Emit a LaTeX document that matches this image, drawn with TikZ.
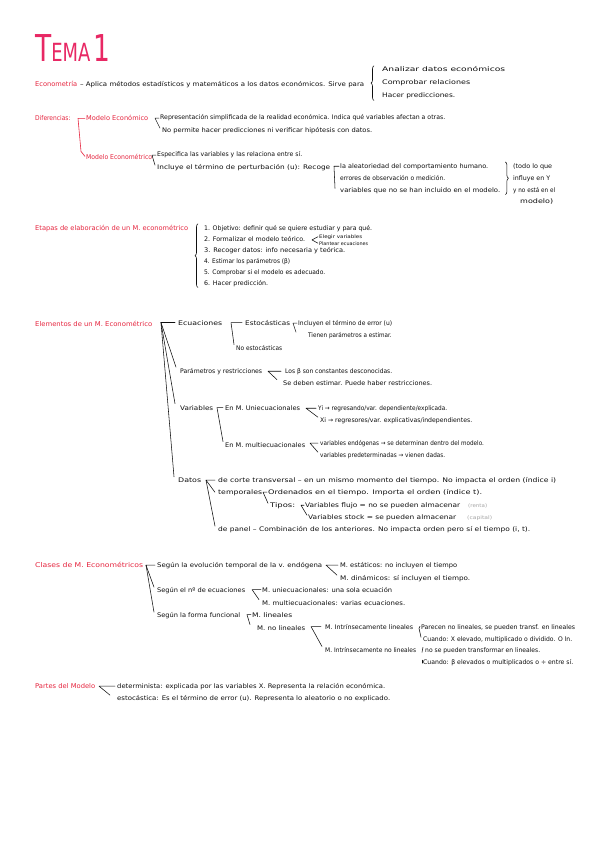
\documentclass[tikz,border=0pt]{standalone}
\usepackage{fontspec}
\usepackage{graphicx}
\setmainfont{DejaVu Sans}
\usetikzlibrary{decorations.pathreplacing,calc}
\definecolor{nred}{RGB}{230,36,62}
\definecolor{npink}{RGB}{232,40,100}
\definecolor{ngray}{RGB}{165,165,165}
\definecolor{nink}{RGB}{15,15,15}
\newsavebox\mybox
% \mytx[style]{name}{x}{baseline y}{end x}{text}: text stretched horizontally towards end x
\newcommand\mytx[6][tx]{\node[#1] (#2) at (#3,#4) {\sbox\mybox{#6}\pgfmathsetmacro\myf{max(0.9,min(1.5,(#5-#3)/\wd\mybox))}\scalebox{\myf}[1]{\usebox\mybox}};}
\begin{document}
\begin{tikzpicture}[x=1pt,y=-1pt,
  tx/.style={font=\fontsize{6.3}{7}\selectfont, text=nink, inner sep=0pt, anchor=base west},
  sx/.style={tx, font=\fontsize{4.8}{5}\selectfont},
  gx/.style={tx, text=ngray, font=\fontsize{5}{6}\selectfont},
  rx/.style={tx, text=nred, font=\fontsize{6.6}{7}\selectfont},
  ln/.style={draw=nink, line width=0.55pt, line cap=round, line join=round},
  rln/.style={draw=nred, line width=0.6pt, line cap=round, line join=round},
  brc/.style={ln, decorate, decoration={brace, amplitude=3pt}}
]
\useasboundingbox[fill=white] (0,0) rectangle (599,848);

% Title
\node[tx, text=npink] (tema) at (35,62) {\resizebox{75pt}{\height}{\fontsize{37}{40}\selectfont T\fontsize{25}{28}\selectfont EMA\,\fontsize{37}{40}\selectfont 1}};

% Econometria
\mytx[rx]{ectr}{35}{87}{77}{Econometría}
\mytx{ecdef}{80}{87}{364}{– Aplica métodos estadísticos y matemáticos a los datos económicos. Sirve para}
\mytx{an}{382}{72}{505}{Analizar datos económicos}
\mytx{co}{382}{85}{470}{Comprobar relaciones}
\mytx{ha}{382}{98}{455}{Hacer predicciones.}
\draw[brc] ([xshift=-8,yshift=-1]ha.south west) -- ([xshift=-8,yshift=1]an.north west);

% Diferencias
\mytx[rx]{dif}{35}{121}{70}{Diferencias:}
\mytx[rx]{meco}{86}{121}{148}{Modelo Económico}
\mytx[rx]{mectr}{86}{159}{152}{Modelo Econométrico}
\draw[rln] ([xshift=-1]meco.west) -- ([xshift=-8]meco.west) coordinate (d0)
  -- ([xshift=-5,yshift=5]mectr.west) -- ([xshift=-1]mectr.west);

\mytx{me1}{160}{120}{445}{Representación simplificada de la realidad económica. Indica qué variables afectan a otras.}
\mytx{me2}{162}{132}{372}{No permite hacer predicciones ni verificar hipótesis con datos.}
\draw[ln] ([xshift=-1]me1.west) -- ([xshift=-5]me1.west) -- ([xshift=-2,yshift=2]me2.west);

\mytx{mc1}{157}{157}{302}{Especifica las variables y las relaciona entre sí.}
\mytx{mc2}{157}{169}{330}{Incluye el término de perturbación (u): Recoge}
\draw[ln] ([xshift=-1]mc1.west) -- ([xshift=-5]mc1.west) -- ([xshift=-2,yshift=2]mc2.west);

\mytx{rc1}{340}{168}{488}{la aleatoriedad del comportamiento humano.}
\mytx{rc2}{340}{180}{445}{errores de observación o medición.}
\mytx{rc3}{340}{192}{500}{variables que no se han incluido en el modelo.}
\draw[ln] ([xshift=-1]rc1.west) -- ([xshift=-6]rc1.west) -- ([xshift=-5,yshift=2]rc3.west);
\draw[brc] ([xshift=5,yshift=1]rc3.east |- rc1.north) -- ([xshift=5,yshift=-1]rc3.south east);
\mytx{td1}{513}{168}{552}{(todo lo que}
\mytx{td2}{513}{180}{550}{influye en Y}
\mytx{td3}{513}{192}{555}{y no está en el}
\mytx{td4}{520}{203}{553}{modelo)}

% Etapas
\mytx[rx]{eta}{35}{230}{188}{Etapas de elaboración de un M. econométrico}
\mytx{e1}{204}{230}{372}{1. Objetivo: definir qué se quiere estudiar y para qué.}
\mytx{e2}{204}{241}{305}{2. Formalizar el modelo teórico.}
\mytx{e3}{204}{252}{345}{3. Recoger datos: info necesaria y teórica.}
\mytx{e4}{204}{263}{290}{4. Estimar los parámetros (β)}
\mytx{e5}{204}{274}{325}{5. Comprobar si el modelo es adecuado.}
\mytx{e6}{204}{285}{268}{6. Hacer predicción.}
\draw[brc] ([xshift=-6,yshift=-1]e6.south west) -- ([xshift=-6,yshift=1]e1.north west);
\mytx[sx]{ev}{319}{238}{362}{Elegir variables}
\mytx[sx]{pe}{319}{245}{368}{Plantear ecuaciones}
\draw[ln] ([xshift=-1]ev.west) -- ($(ev.west)!0.5!(pe.west)+(-7,0)$) -- ([xshift=-1]pe.west);

% Elementos
\mytx[rx]{el}{35}{326}{152}{Elementos de un M. Econométrico}
\mytx{ecu}{178}{325}{222}{Ecuaciones}
\mytx{par}{180}{373}{262}{Parámetros y restricciones}
\mytx{var}{180}{410}{213}{Variables}
\mytx{dat}{178}{482}{201}{Datos}
\draw[ln] ([xshift=-3]ecu.west) -- ([xshift=-17]ecu.west) coordinate (root);
\draw[ln] (root) -- ([xshift=-4,yshift=4]par.west);
\draw[ln] (root) -- ([xshift=-5,yshift=4]var.west);
\draw[ln] (root) -- ([xshift=-4,yshift=3]dat.west);

\mytx{est}{245}{325}{290}{Estocásticas}
\mytx{noest}{236}{350}{282}{No estocásticas}
\draw[ln] ([xshift=-3]est.west) -- ([xshift=-14]est.west) -- ([xshift=-2,yshift=3]noest.west);
\mytx{in1}{298}{325}{392}{Incluyen el término de error (u)}
\mytx{in2}{308}{337}{388}{Tienen parámetros a estimar.}
\draw[ln] ([xshift=-1]in1.west) -- ([xshift=-5]in1.west) -- ([xshift=-2,yshift=3]in1.west |- in2.west);

\mytx{pa1}{285}{373}{392}{Los β son constantes desconocidas.}
\mytx{pa2}{283}{385}{432}{Se deben estimar. Puede haber restricciones.}
\draw[ln] ([xshift=-4]pa1.west) -- ([xshift=-17]pa1.west) -- ([xshift=-6,yshift=3]pa2.west);

\mytx{vu}{225}{410}{300}{En M. Uniecuacionales}
\mytx{vm}{225}{447}{305}{En M. multiecuacionales}
\draw[ln] ([xshift=-2]vu.west) -- ([xshift=-8]vu.west) -- ([xshift=-2,yshift=3]vm.west);
\mytx{y1}{318}{410}{447}{Yi → regresando/var. dependiente/explicada.}
\mytx{x1}{320}{422}{472}{Xi → regresores/var. explicativas/independientes.}
\draw[ln] ([xshift=-2]y1.west) -- ([xshift=-12]y1.west) -- ([xshift=-2,yshift=3]x1.west);
\mytx{en1}{320}{445}{482}{variables endógenas → se determinan dentro del modelo.}
\mytx{en2}{320}{457}{445}{variables predeterminadas → vienen dadas.}
\draw[ln] ([xshift=-2]en1.west) -- ([xshift=-10]en1.west) -- ([xshift=-2,yshift=3]en2.west);

\mytx{dc}{218}{482}{556}{de corte transversal – en un mismo momento del tiempo. No impacta el orden (índice i)}
\mytx{tmp}{218}{494}{262}{temporales}
\mytx{pan}{218}{531}{530}{de panel – Combinación de los anteriores. No impacta orden pero sí el tiempo (i, t).}
\draw[ln] ([xshift=-3]dc.west) -- ([xshift=-12]dc.west) coordinate (ds) -- ([xshift=-3]tmp.west);
\draw[ln] (ds) -- ([xshift=-3,yshift=3]pan.west);
\mytx{tp1}{268}{494}{482}{Ordenados en el tiempo. Importa el orden (índice t).}
\mytx{tip}{270}{507}{295}{Tipos:}
\draw[ln] ([xshift=-1]tp1.west) -- ([xshift=-5]tp1.west) -- ([xshift=-2,yshift=2]tip.west);
\mytx{vf}{305}{507}{460}{Variables flujo = no se pueden almacenar}
\mytx[gx]{renta}{468}{507}{487}{(renta)}
\mytx{vs}{308}{519}{456}{Variables stock = se pueden almacenar}
\mytx[gx]{capital}{467}{519}{492}{(capital)}
\draw[ln] ([xshift=-1]vf.west) -- ([xshift=-4]vf.west) -- ([xshift=-1,yshift=2]vs.west);

% Clases
\mytx[rx]{cl}{35}{567}{143}{Clases de M. Econométricos}
\mytx{s1}{157}{567}{322}{Según la evolución temporal de la v. endógena}
\mytx{s2}{157}{592}{245}{Según el nº de ecuaciones}
\mytx{s3}{157}{617}{240}{Según la forma funcional}
\draw[ln] ([xshift=-2]s1.west) -- ([xshift=-11]s1.west) coordinate (c0) -- ([xshift=-3,yshift=3]s2.west);
\draw[ln] (c0) -- ([xshift=-3,yshift=3]s3.west);
\mytx{st}{340}{567}{457}{M. estáticos: no incluyen el tiempo}
\mytx{dn}{340}{580}{470}{M. dinámicos: sí incluyen el tiempo.}
\draw[ln] ([xshift=-2]st.west) -- ([xshift=-14]st.west) -- ([xshift=-3,yshift=3]dn.west);
\mytx{uni}{262}{592}{392}{M. uniecuacionales: una sola ecuación}
\mytx{mul}{262}{605}{405}{M. multiecuacionales: varias ecuaciones.}
\draw[ln] ([xshift=-1]uni.west) -- ([xshift=-10]uni.west) -- ([xshift=-3,yshift=3]mul.west);
\mytx{lin}{252}{617}{292}{M. lineales}
\mytx{nlin}{257}{630}{305}{M. no lineales}
\draw[ln] ([xshift=-1]lin.west) -- ([xshift=-5]lin.west) -- ([xshift=-2,yshift=3]lin.west |- nlin.west);
\mytx{il}{325}{629}{413}{M. Intrínsecamente lineales}
\mytx{inl}{325}{652}{416}{M. Intrínsecamente no lineales}
\draw[ln] ([xshift=-4]il.west) -- ([xshift=-14]il.west) -- ([xshift=-3,yshift=3]inl.west);
\mytx{il1}{421}{629}{575}{Parecen no lineales, se pueden transf. en lineales}
\mytx{il2}{423}{641}{572}{Cuando: X elevado, multiplicado o dividido. O ln.}
\draw[ln] ([xshift=-1,yshift=1]il1.west) -- ([xshift=-2,yshift=-1]il1.west) -- ([xshift=-2,yshift=2]il2.west);
\mytx{inl1}{425}{652}{540}{no se pueden transformar en lineales.}
\mytx{inl2}{423}{664}{573}{Cuando: β elevados o multiplicados o ÷ entre sí.}
\draw[ln] ([xshift=-2,yshift=3]inl1.west) -- ([xshift=-3,yshift=-2]inl1.west);
\draw[ln] ([xshift=-1,yshift=2]inl2.west) -- ([xshift=-1,yshift=-1]inl2.west);

% Partes
\mytx[rx]{pm}{35}{688}{95}{Partes del Modelo}
\mytx{det}{117}{688}{385}{determinista: explicada por las variables X. Representa la relación económica.}
\mytx{esto}{117}{700}{390}{estocástica: Es el término de error (u). Representa lo aleatorio o no explicado.}
\draw[ln] ([xshift=-2]det.west) -- ([xshift=-18]det.west) -- ([xshift=-7,yshift=3]esto.west);
\end{tikzpicture}
\end{document}
